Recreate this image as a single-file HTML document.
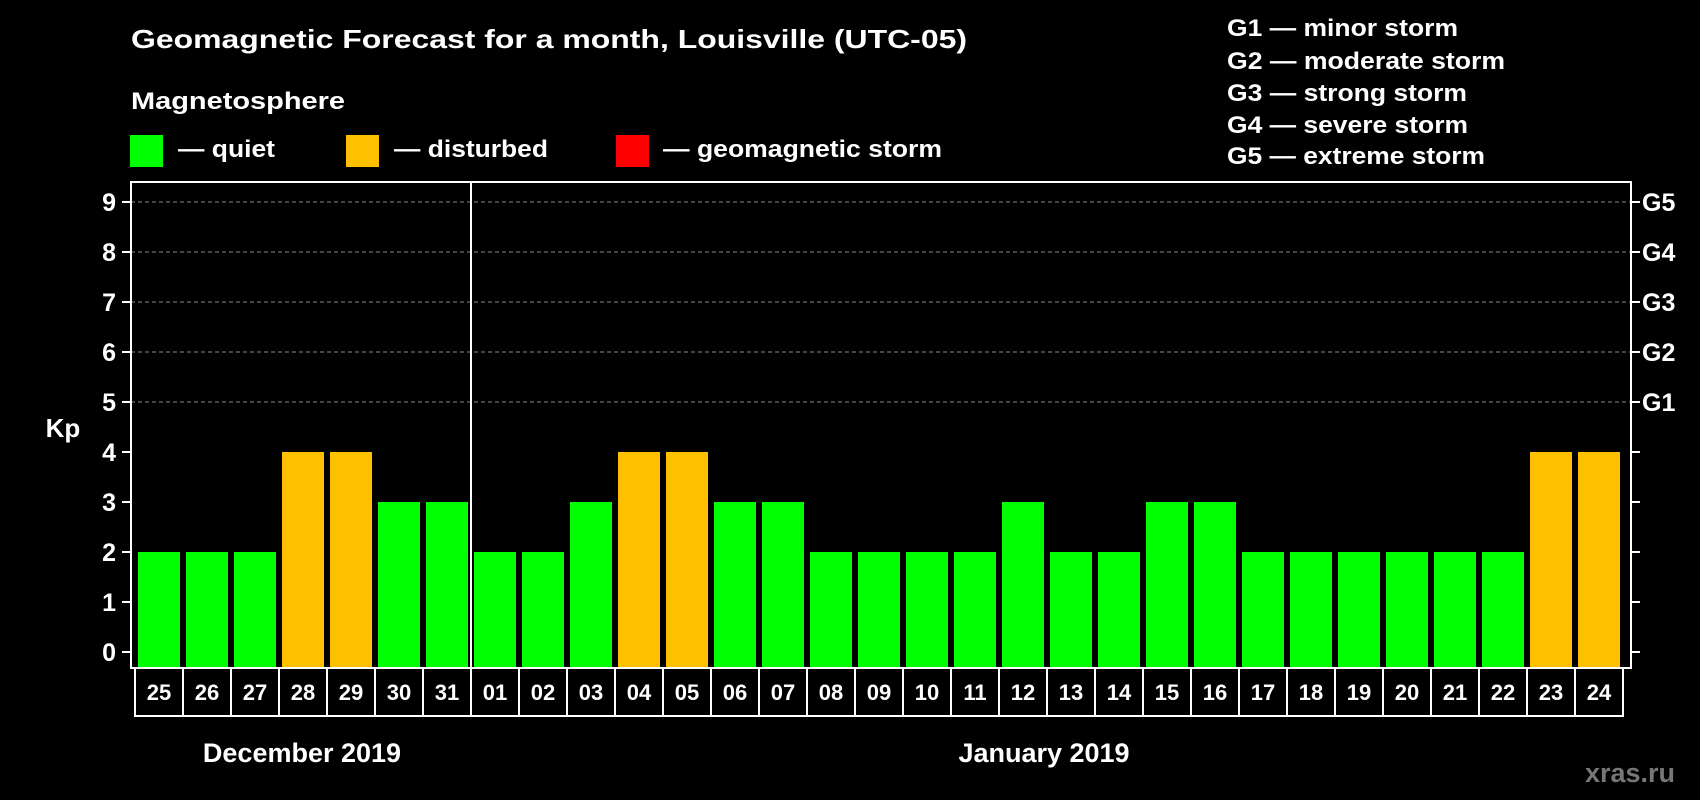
<!DOCTYPE html>
<html><head><meta charset="utf-8"><style>
html,body{margin:0;padding:0;background:#000;width:1700px;height:800px;overflow:hidden}
svg{display:block;font-family:"Liberation Sans",Arial,sans-serif;font-weight:bold}
</style></head><body>
<svg id="chart" width="1700" height="800" viewBox="0 0 1700 800">
<rect x="0" y="0" width="1700" height="800" fill="#000"/>
<text x="131" y="48" fill="#fff" font-size="26" textLength="836" lengthAdjust="spacingAndGlyphs">Geomagnetic Forecast for a month, Louisville (UTC-05)</text>
<text x="131" y="109" fill="#fff" font-size="24" textLength="214" lengthAdjust="spacingAndGlyphs">Magnetosphere</text>
<g><rect x="130" y="135" width="33" height="32" fill="#00ff00"/><text x="178" y="157" fill="#fff" font-size="24" textLength="97" lengthAdjust="spacingAndGlyphs">— quiet</text></g>
<g><rect x="346" y="135" width="33" height="32" fill="#ffc000"/><text x="394" y="157" fill="#fff" font-size="24" textLength="154" lengthAdjust="spacingAndGlyphs">— disturbed</text></g>
<g><rect x="616" y="135" width="33" height="32" fill="#ff0000"/><text x="663" y="157" fill="#fff" font-size="24" textLength="279" lengthAdjust="spacingAndGlyphs">— geomagnetic storm</text></g>
<g fill="#fff" font-size="24">
<text x="1227" y="36" textLength="231" lengthAdjust="spacingAndGlyphs">G1 — minor storm</text>
<text x="1227" y="69" textLength="278" lengthAdjust="spacingAndGlyphs">G2 — moderate storm</text>
<text x="1227" y="101" textLength="240" lengthAdjust="spacingAndGlyphs">G3 — strong storm</text>
<text x="1227" y="133" textLength="241" lengthAdjust="spacingAndGlyphs">G4 — severe storm</text>
<text x="1227" y="164" textLength="258" lengthAdjust="spacingAndGlyphs">G5 — extreme storm</text>
</g>
<text x="63" y="437" fill="#fff" font-size="26" text-anchor="middle">Kp</text>
<text x="302" y="762" fill="#fff" font-size="27" text-anchor="middle">December 2019</text>
<text x="1044" y="762" fill="#fff" font-size="27" text-anchor="middle">January 2019</text>
<text x="1675" y="782" fill="#777" font-size="27" text-anchor="end">xras.ru</text>
<g id="grid"></g><g id="bars"></g><g id="axes"></g>
</svg>
<script>
const days = ["25","26","27","28","29","30","31","01","02","03","04","05","06","07","08","09","10","11","12","13","14","15","16","17","18","19","20","21","22","23","24"];
const kpValues = [2,2,2,4,4,3,3,2,2,3,4,4,3,3,2,2,2,2,3,2,2,3,3,2,2,2,2,2,2,4,4];
const yTicks = [0,1,2,3,4,5,6,7,8,9];
const gLabels = ["G1","G2","G3","G4","G5"];
const gLevels = [5,6,7,8,9];
const monthBreakIndex = 7;

const NS="http://www.w3.org/2000/svg";
const L=131,R=1631,T=182,B=668;
const y=v=>652-v*50;
const x=i=>138+i*48;
const BW=42;
function mk(tag,attrs,parent){const e=document.createElementNS(NS,tag);for(const k in attrs)e.setAttribute(k,attrs[k]);parent.appendChild(e);return e;}
const grid=document.getElementById('grid'),bars=document.getElementById('bars'),axes=document.getElementById('axes');
gLevels.forEach((v,i)=>{
 const g=mk('line',{x1:L,x2:R,y1:y(v),y2:y(v),stroke:'#888','stroke-width':1,'stroke-dasharray':'4,3'},grid);
 
 
 const t=mk('text',{x:1642,y:y(v)+9,fill:'#fff','font-size':25},axes);t.textContent=gLabels[i];
 
 
});
kpValues.forEach((v,i)=>{
 const c=v>=5?'#ff0000':(v>=4?'#ffc000':'#00ff00');
 const b=mk('rect',{x:x(i),y:y(v),width:BW,height:B-y(v),fill:c},bars);
 
 
 const cell=mk('rect',{x:135+i*48,y:B,width:48,height:48,fill:'none',stroke:'#fff','stroke-width':2},axes);
 
 
 const t=mk('text',{x:135+i*48+24,y:B+32,fill:'#fff','font-size':22,'text-anchor':'middle'},axes);t.textContent=days[i];
 
 
});
yTicks.forEach(v=>{
 const t=mk('text',{x:116,y:y(v)+9,fill:'#fff','font-size':25,'text-anchor':'end'},axes);t.textContent=v;
 
 
 mk('line',{x1:122,x2:L,y1:y(v),y2:y(v),stroke:'#fff','stroke-width':2},axes);
 mk('line',{x1:R,x2:1640,y1:y(v),y2:y(v),stroke:'#fff','stroke-width':2},axes);
});
const fr=mk('rect',{x:L,y:T,width:R-L,height:B-T,fill:'none',stroke:'#fff','stroke-width':2},axes);


const sx=x(monthBreakIndex)-3;
const sep=mk('line',{x1:sx,x2:sx,y1:T,y2:B,stroke:'#fff','stroke-width':2},axes);


</script>
</body></html>
